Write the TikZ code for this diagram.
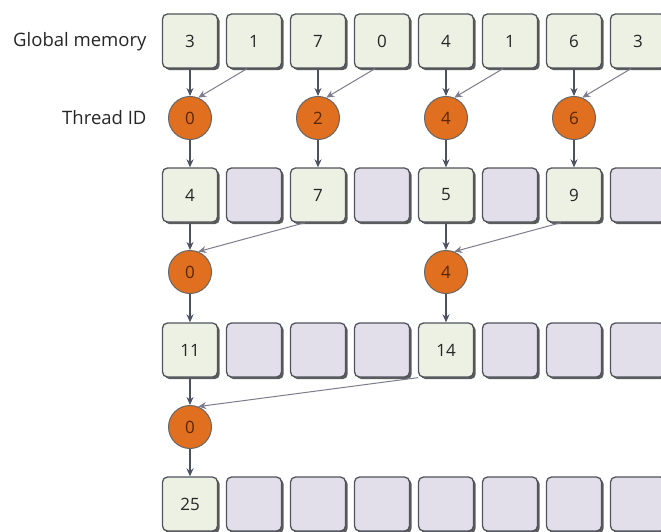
\documentclass[tikz,border=0pt]{standalone}
\usepackage{fontspec}
\setmainfont{Open Sans}
\usetikzlibrary{arrows.meta,shadows}

\definecolor{cellon}{HTML}{EDF1E3}
\definecolor{celloff}{HTML}{E2DFEB}
\definecolor{celledge}{HTML}{4F535B}
\definecolor{thread}{HTML}{E06F1F}
\definecolor{threadtxt}{HTML}{5A2600}
\definecolor{wire}{HTML}{4C5263}
\definecolor{wirelight}{HTML}{7C7C8C}

\begin{document}
\begin{tikzpicture}[
  x=1pt, y=-1pt,
  cell/.style={rectangle, draw=celledge, line width=1.3pt, rounded corners=5pt, minimum width=55pt, minimum height=54pt, font=\fontsize{17}{19}\selectfont, text=black!85, drop shadow={shadow xshift=2.2pt, shadow yshift=-2.2pt, fill=black!75, opacity=0.85}},
  on/.style={cell, fill=cellon},
  off/.style={cell, fill=celloff},
  thr/.style={circle, draw=black!60, line width=1pt, fill=thread, minimum size=43pt, inner sep=0pt, font=\fontsize{17}{19}\selectfont, text=threadtxt},
  lbl/.style={anchor=east, font=\fontsize{18.5}{20}\selectfont, text=black!85},
  down/.style={-{Stealth[length=8pt,width=7pt]}, line width=1.3pt, draw=wire},
  pull/.style={-{Stealth[length=8pt,width=7pt]}, line width=1pt, draw=wirelight}
]
\useasboundingbox (0,0) rectangle (661,532);

% Labels
\node[lbl] (glabel) at (150,42) {Global memory};
\node[lbl] (tlabel) at (150,118) {Thread ID};

% Global memory
\foreach \v [count=\i] in {3,1,7,0,4,1,6,3}
  \node[on] (r0-\i) at ({190+64*(\i-1)},41) {\v};

% Step 1
\foreach \i in {2,4,6,8}
  \node[off] (r1-\i) at ({190+64*(\i-1)},195) {};
\foreach \v/\i in {4/1,7/3,5/5,9/7}
  \node[on] (r1-\i) at ({190+64*(\i-1)},195) {\v};

% Step 2
\foreach \i in {2,3,4,6,7,8}
  \node[off] (r2-\i) at ({190+64*(\i-1)},350) {};
\node[on] (r2-1) at (190,350) {11};
\node[on] (r2-5) at (446,350) {14};

% Step 3
\foreach \i in {2,...,8}
  \node[off] (r3-\i) at ({190+64*(\i-1)},504) {};
\node[on] (r3-1) at (190,504) {25};

% Threads
\node[thr] (t1-1) at (190,118) {0};
\node[thr] (t1-3) at (318,118) {2};
\node[thr] (t1-5) at (446,118) {4};
\node[thr] (t1-7) at (574,118) {6};
\node[thr] (t2-1) at (190,272) {0};
\node[thr] (t2-5) at (446,272) {4};
\node[thr] (t3-1) at (190,427) {0};

% Arrows, step 1
\foreach \i [evaluate=\i as \j using int(\i+1)] in {1,3,5,7} {
  \draw[down] (r0-\i.south) -- (t1-\i.north);
  \draw[pull] ([xshift=-7pt]r0-\j.south) -- (t1-\i.68);
  \draw[down] (t1-\i.south) -- (r1-\i.north);
}

% Arrows, step 2
\foreach \i [evaluate=\i as \j using int(\i+2)] in {1,5} {
  \draw[down] (r1-\i.south) -- (t2-\i.north);
  \draw[pull] ([xshift=-13pt]r1-\j.south) -- (t2-\i.68);
  \draw[down] (t2-\i.south) -- (r2-\i.north);
}

% Arrows, step 3
\draw[down] (r2-1.south) -- (t3-1.north);
\draw[pull] ([xshift=-28pt]r2-5.south) -- (t3-1.68);
\draw[down] (t3-1.south) -- (r3-1.north);

\end{tikzpicture}
\end{document}
